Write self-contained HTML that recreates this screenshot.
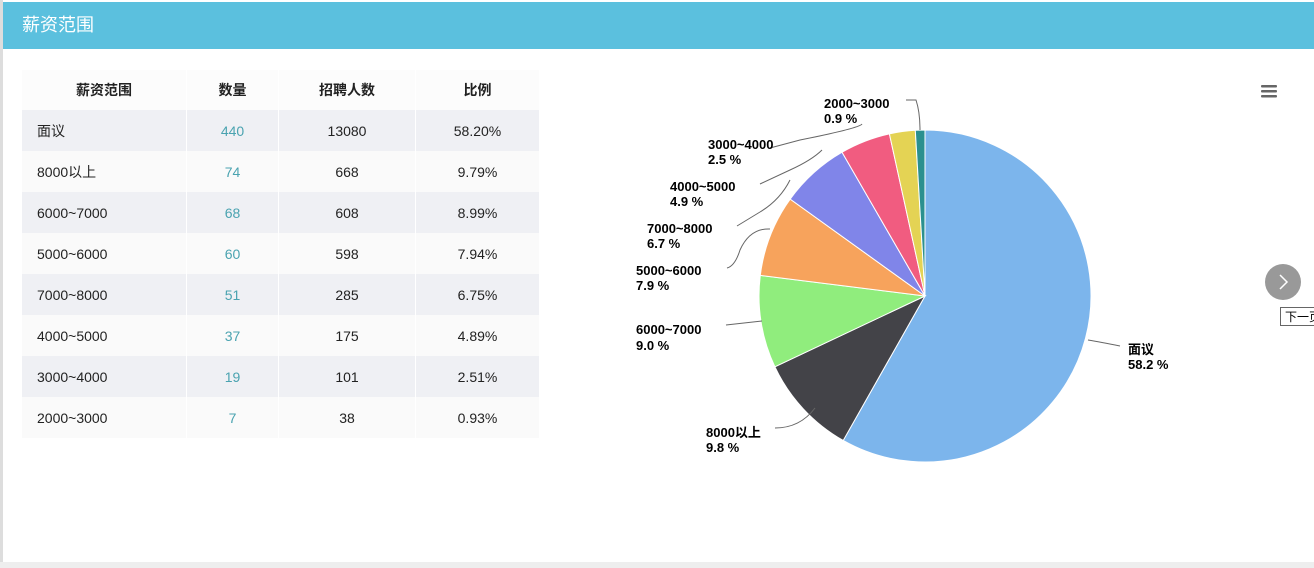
<!DOCTYPE html>
<html><head><meta charset="utf-8"><style>
body{margin:0;width:1314px;height:568px;overflow:hidden;background:#fff;font-family:"Liberation Sans","Noto Sans CJK SC",sans-serif;position:relative}
.lb{position:absolute;left:0;top:0;width:3px;height:568px;background:#ddd}
.hd{position:absolute;left:3px;top:2px;width:1311px;height:47px;background:#5bc0de;color:#fff;font-size:18px;line-height:47px;padding-left:19px;box-sizing:border-box}
.ft{position:absolute;left:0;top:562px;width:1314px;height:6px;background:#eee}
table{position:absolute;left:22px;top:70px;border-collapse:collapse;font-size:14px;color:#222}
td,th{height:41px;padding:0;border-right:1px solid #fff;text-align:center}
th{height:40px;font-weight:bold;background:#fcfcfc}
tr:nth-child(even) td{background:#eff0f4}
tr:nth-child(odd) td{background:#fafafa}
td:first-child{text-align:left;padding-left:15px}
td.n{color:#4aa3b0}
svg{position:absolute;left:0;top:0}
svg text{font-family:"Liberation Sans","Noto Sans CJK SC",sans-serif;font-size:13px;font-weight:bold;fill:#000}
</style></head><body>
<div class="lb"></div>
<div class="hd">薪资范围</div>
<table>
<tr><th style="width:164px">薪资范围</th><th style="width:91px">数量</th><th style="width:136px">招聘人数</th><th style="width:123px">比例</th></tr>
<tr><td>面议</td><td class="n">440</td><td>13080</td><td>58.20%</td></tr>
<tr><td>8000以上</td><td class="n">74</td><td>668</td><td>9.79%</td></tr>
<tr><td>6000~7000</td><td class="n">68</td><td>608</td><td>8.99%</td></tr>
<tr><td>5000~6000</td><td class="n">60</td><td>598</td><td>7.94%</td></tr>
<tr><td>7000~8000</td><td class="n">51</td><td>285</td><td>6.75%</td></tr>
<tr><td>4000~5000</td><td class="n">37</td><td>175</td><td>4.89%</td></tr>
<tr><td>3000~4000</td><td class="n">19</td><td>101</td><td>2.51%</td></tr>
<tr><td>2000~3000</td><td class="n">7</td><td>38</td><td>0.93%</td></tr>
</table>
<svg width="1314" height="568" id="s">
<g id="pie"></g>
<g fill="none" stroke="#666" stroke-width="1">
<path d="M1088 340 Q1100 342 1120 346"/>
<path d="M815 408 Q800 428 775 428"/>
<path d="M762 321 L726 325"/>
<path d="M770 229 Q750 228 740 250 Q735 266 727 268"/>
<path d="M790 180 Q780 200 760 212 L737 226"/>
<path d="M822 150 Q812 160 790 170 L760 184"/>
<path d="M862 124 Q860 128 800 140 L770 148"/>
<path d="M920 130 Q920 112 916 100 L906 100"/>
</g>
<text x="1128" y="354">面议</text><text x="1128" y="369">58.2 %</text>
<text x="706" y="437">8000以上</text><text x="706" y="452">9.8 %</text>
<text x="636" y="334">6000~7000</text><text x="636" y="350">9.0 %</text>
<text x="636" y="275">5000~6000</text><text x="636" y="290">7.9 %</text>
<text x="647" y="233">7000~8000</text><text x="647" y="248">6.7 %</text>
<text x="670" y="191">4000~5000</text><text x="670" y="206">4.9 %</text>
<text x="708" y="149">3000~4000</text><text x="708" y="164">2.5 %</text>
<text x="824" y="108">2000~3000</text><text x="824" y="123">0.9 %</text>
<g fill="#666"><rect x="1261" y="85" width="16" height="2.5" rx="1"/><rect x="1261" y="90" width="16" height="2.5" rx="1"/><rect x="1261" y="95" width="16" height="2.5" rx="1"/></g>
<circle cx="1283" cy="282" r="18" fill="#999"/>
<path d="M1280 275 L1287 282 L1280 289" fill="none" stroke="#fff" stroke-width="1.5"/>
<rect x="1280.5" y="307.5" width="40" height="18" fill="#fff" stroke="#666"/>
<text x="1285" y="321" style="font-weight:normal;font-size:12px">下一页</text>
</svg>
<div class="ft"></div>
<script>
var d=[[58.2,'#7cb5ec'],[9.79,'#434348'],[8.99,'#90ed7d'],[7.94,'#f7a35c'],[6.75,'#8085e9'],[4.89,'#f15c80'],[2.51,'#e4d354'],[0.93,'#2b908f']];
var cx=925,cy=296,r=166,a=-Math.PI/2,t=0,g=document.getElementById('pie'),h='';
d.forEach(function(x){t+=x[0]});
d.forEach(function(x){var b=a+x[0]/t*2*Math.PI;
var x1=cx+r*Math.cos(a),y1=cy+r*Math.sin(a),x2=cx+r*Math.cos(b),y2=cy+r*Math.sin(b);
h+='<path d="M'+cx+' '+cy+'L'+x1+' '+y1+'A'+r+' '+r+' 0 '+((b-a)>Math.PI?1:0)+' 1 '+x2+' '+y2+'Z" fill="'+x[1]+'" stroke="#fff" stroke-width="1"/>';a=b;});
g.innerHTML=h;
</script>
</body></html>
